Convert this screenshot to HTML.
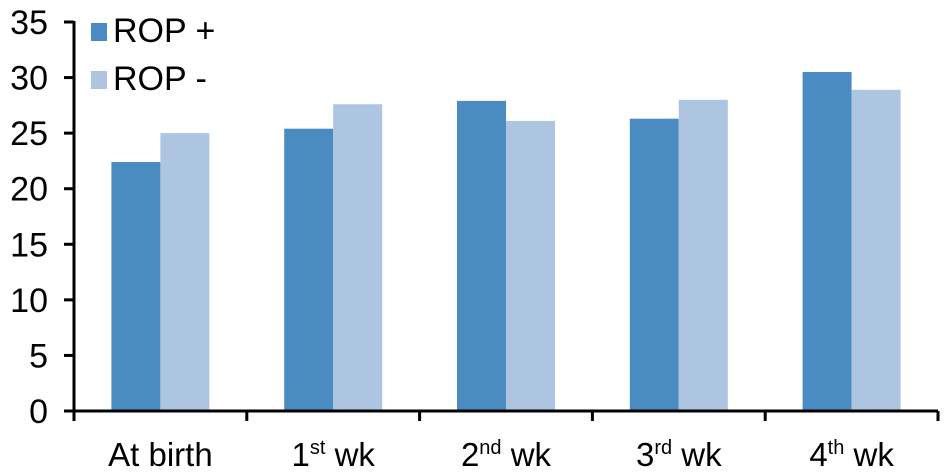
<!DOCTYPE html>
<html><head><meta charset="utf-8"><style>body{margin:0;background:#fff}svg{display:block;font-family:"Liberation Sans",Arial,sans-serif}</style></head>
<body>
<svg id="c" width="945" height="473">
<g id="plot"></g>
<g>
<rect x="91" y="23" width="16" height="18" fill="#4a8bc2"/>
<text x="113" y="42" font-size="34">ROP +</text>
<rect x="91" y="71" width="16" height="18" fill="#aec5e2"/>
<text x="113" y="90" font-size="34">ROP -</text>
</g>
</svg>
<script>
const categories=["At birth","1st wk","2nd wk","3rd wk","4th wk"];
const ropPlus=[22.4,25.4,27.9,26.3,30.5];
const ropMinus=[25.0,27.6,26.1,28.0,28.9];
const yTicks=[0,5,10,15,20,25,30,35];
const NS="http://www.w3.org/2000/svg";
const g=document.getElementById('plot');
const x0=74,x1=938,y0=411,yTop=22,yMax=35;
const y=v=>y0-(v/yMax)*(y0-yTop);
const cw=(x1-x0)/categories.length;
function el(t,a){const e=document.createElementNS(NS,t);for(const k in a)e.setAttribute(k,a[k]);g.appendChild(e);return e;}
categories.forEach((c,i)=>{
 const cx=x0+cw*(i+0.5),bw=49;
 let r=el('rect',{x:cx-bw,y:y(ropPlus[i]),width:bw,height:y0-y(ropPlus[i]),fill:'#4a8bc2'});
 
 
 r=el('rect',{x:cx,y:y(ropMinus[i]),width:bw,height:y0-y(ropMinus[i]),fill:'#aec5e2'});
 
 
 const t=el('text',{x:cx,y:466,'font-size':33,'text-anchor':'middle'});
 
 
 const m=c.match(/^(\d)(st|nd|rd|th) (wk)$/);
 if(m){t.innerHTML=m[1]+'<tspan font-size="20" dy="-12">'+m[2]+'</tspan><tspan dy="12"> '+m[3]+'</tspan>';}
 else t.textContent=c;
});
for(let i=0;i<=categories.length;i++){
 const tx=x0+cw*i;
 const l=el('line',{x1:tx,x2:tx,y1:y0,y2:421,stroke:'#000','stroke-width':3});
 
 
}
yTicks.forEach(v=>{
 const l=el('line',{x1:64,x2:x0,y1:y(v),y2:y(v),stroke:'#000','stroke-width':3});
 
 
 const t=el('text',{x:48,y:y(v)+12,'font-size':34,'text-anchor':'end'});
 t.textContent=v;
 
 
});
let a=el('line',{x1:x0,x2:x0,y1:yTop-1,y2:y0+1.5,stroke:'#000','stroke-width':3});


a=el('line',{x1:x0-1.5,x2:x1,y1:y0,y2:y0,stroke:'#000','stroke-width':3});


</script>
</body></html>
